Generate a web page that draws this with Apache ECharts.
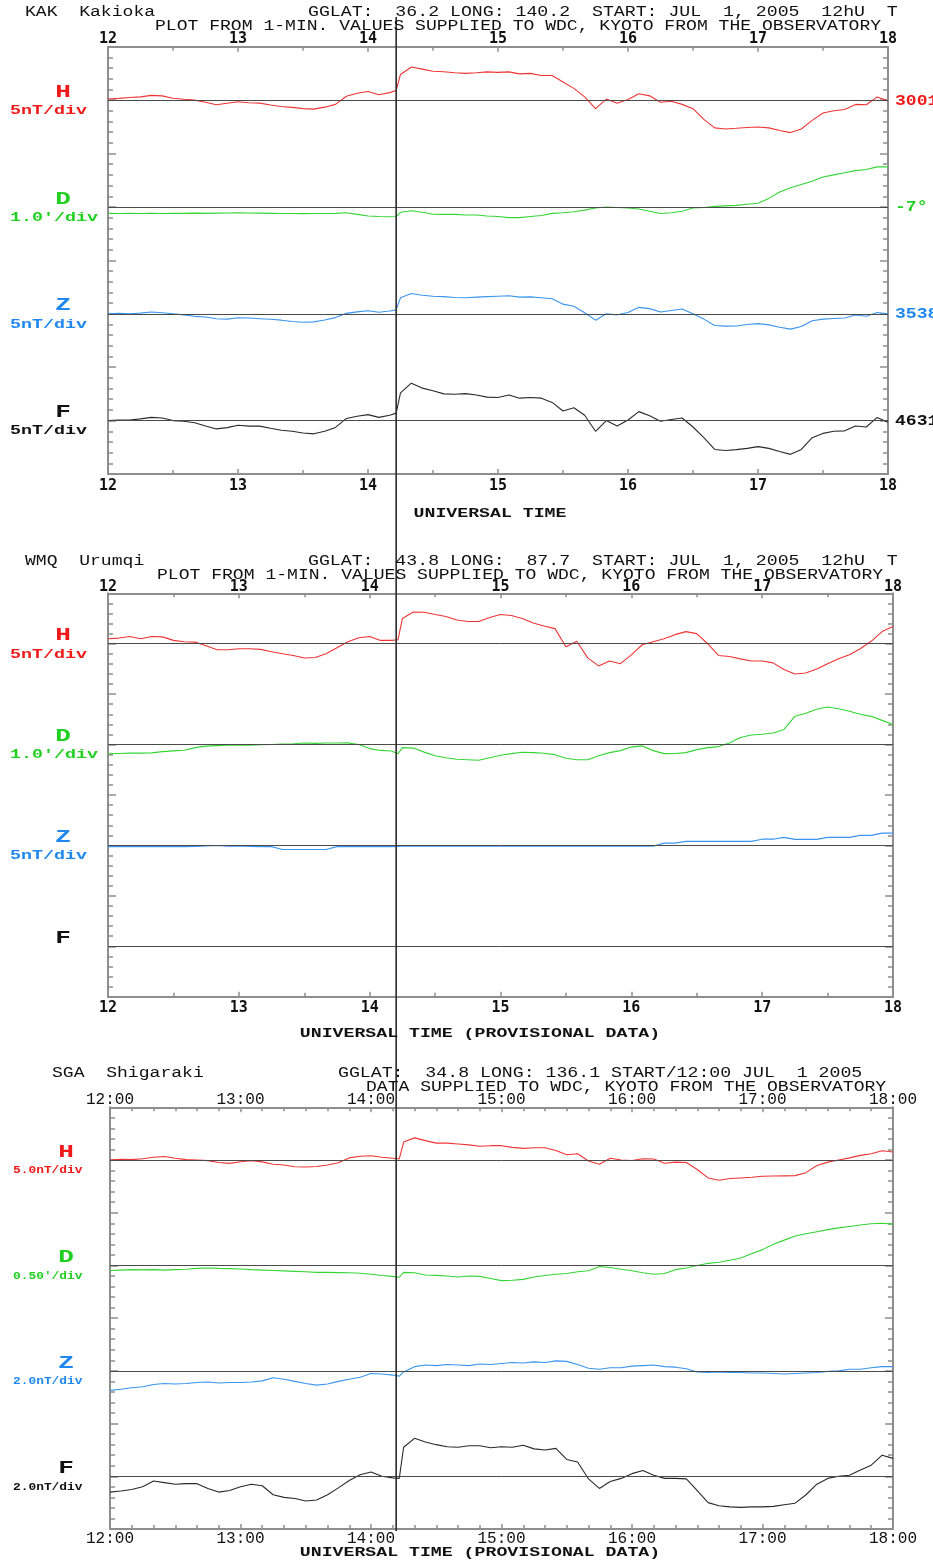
<!DOCTYPE html>
<html><head><meta charset="utf-8">
<script src="https://cdn.jsdelivr.net/npm/echarts@6/dist/echarts.min.js"></script>
<style>html,body{margin:0;padding:0;background:#fff}#c{width:933px;height:1562px}</style>
</head><body><div id="c"></div>
<script>
// ---- time grid (minutes after 12:00 UT); 133 = sudden commencement sample ----
const minutes = (function(){const a=[];for(let m=0;m<=360;m+=5){a.push(m);if(m===130)a.push(133);}return a;})();
const sscMinute = 133;

// ---- KAK Kakioka (deviation from baseline) ----
const kakH = [0.5,0.8,1.2,1.5,2.2,2.0,0.9,0.4,0,-1.0,
  -2.2,-1.5,-0.8,-1.2,-1.4,-2.3,-3.0,-3.4,-4.0,-4.2,
  -3.3,-2.0,1.8,3.2,4.0,2.5,3.5,4.5,
  12.0,15.5,14.5,13.5,13.3,12.8,12.5,12.8,13.2,13.0,
  13.2,12.3,12.5,11.5,11.5,8.5,5.5,1.5,-4.0,0.5,
  -1.5,0.3,3.0,2.0,-1.0,-0.5,-2.0,-4.0,-9.0,-13.0,
  -13.5,-13.2,-12.8,-12.6,-13.0,-14.2,-15.2,-13.5,-9.5,-6.0,
  -5.0,-4.4,-2.0,-2.2,1.5,-0.3];
const kakD = [-0.6,-0.62,-0.6,-0.62,-0.6,-0.62,-0.6,-0.6,-0.58,-0.6,
  -0.58,-0.57,-0.55,-0.57,-0.58,-0.6,-0.62,-0.62,-0.63,-0.62,
  -0.62,-0.6,-0.55,-0.7,-0.85,-0.9,-0.92,-0.9,
  -0.5,-0.35,-0.5,-0.68,-0.7,-0.7,-0.75,-0.75,-0.85,-0.9,
  -1.0,-1.0,-0.9,-0.8,-0.6,-0.55,-0.45,-0.3,-0.1,0.0,
  -0.05,-0.1,-0.2,-0.4,-0.62,-0.55,-0.4,-0.1,-0.05,0.05,
  0.1,0.15,0.25,0.35,0.8,1.4,1.8,2.1,2.4,2.8,
  3.0,3.2,3.4,3.5,3.75,3.75];
const kakZ = [0,0.2,0,0.3,0.8,0.5,0,-0.5,-1.2,-1.5,
  -2.3,-2.5,-1.9,-2.0,-2.3,-2.6,-3.0,-3.6,-4.0,-3.8,
  -2.9,-1.8,0.2,0.9,1.4,0.7,1.3,1.8,
  7.5,9.5,8.7,8.2,8.0,7.6,7.5,7.8,8.0,8.2,
  8.4,7.8,7.9,7.5,7.0,4.5,3.5,0.5,-3.0,0.0,
  -0.5,0.6,3.0,2.4,0.8,1.5,2.2,0.0,-2.5,-5.5,
  -5.8,-5.7,-5.0,-4.6,-5.2,-6.3,-7.2,-6.0,-3.3,-2.5,
  -2.2,-2.0,-0.6,-1.2,0.6,0.0];
const kakF = [0,0.2,0.3,0.8,1.5,1.2,0,-0.3,-1.0,-2.5,
  -3.9,-3.3,-2.2,-2.6,-2.6,-3.6,-4.5,-5.0,-5.8,-6.2,
  -5.0,-3.2,1.0,2.0,2.8,1.5,2.5,3.5,
  13.0,17.5,15.2,14.0,12.5,12.3,12.6,12.0,11.0,10.8,
  12.0,10.5,10.8,10.5,8.5,4.5,6.0,2.5,-5.0,0.0,
  -2.5,0.3,4.2,2.3,-0.3,0.5,1.2,-3.0,-8.0,-13.5,
  -14.0,-13.6,-13.0,-12.2,-13.0,-14.5,-15.8,-13.5,-8.0,-6.0,
  -5.0,-4.8,-2.5,-3.0,1.5,-0.8];

// ---- WMQ Urumqi ----
const wmqH = [2.5,2.8,3.6,2.5,3.6,3.4,1.65,1.0,0.8,-1.0,
  -3.0,-3.0,-2.5,-2.5,-2.8,-4.0,-5.0,-5.8,-7.1,-6.8,
  -5.0,-2.0,1.0,3.0,3.6,1.65,1.65,2.0,
  12.5,15.7,15.6,14.5,13.5,11.8,11.0,11.0,13.0,14.5,
  14.0,12.5,10.3,8.8,7.5,-1.5,1.2,-7.0,-11.0,-8.6,
  -9.9,-5.5,-0.5,1.0,2.5,4.5,6.0,5.0,0,-5.8,
  -6.3,-7.5,-8.6,-8.6,-9.5,-12.8,-15.0,-14.5,-12.5,-9.9,
  -7.5,-5.5,-2.5,1.2,6.0,8.5];
const wmqD = [-0.9,-0.88,-0.85,-0.85,-0.82,-0.7,-0.62,-0.56,-0.3,-0.15,
  -0.1,-0.07,-0.05,-0.05,-0.02,0,0.05,0.08,0.15,0.12,
  0.15,0.15,0.17,0,-0.4,-0.58,-0.63,-0.9,
  -0.3,-0.35,-0.75,-1.1,-1.3,-1.45,-1.5,-1.55,-1.3,-1.06,
  -0.9,-0.76,-0.8,-0.86,-1.0,-1.35,-1.5,-1.5,-1.1,-0.8,
  -0.6,-0.25,-0.13,-0.6,-0.9,-0.88,-0.8,-0.5,-0.3,-0.2,
  0.15,0.7,0.95,1.02,1.15,1.5,2.8,3.1,3.5,3.72,
  3.56,3.3,3.0,2.8,2.4,2.0];
const wmqZ = [-0.6,-0.6,-0.6,-0.6,-0.6,-0.6,-0.6,-0.6,-0.5,-0.2,
  0.0,-0.4,-0.3,-0.5,-0.6,-0.6,-2.0,-2.0,-2.0,-2.0,
  -2.0,-0.6,-0.6,-0.6,-0.6,-0.6,-0.6,-0.5,
  -0.3,-0.4,-0.4,-0.3,-0.4,-0.4,-0.3,-0.4,-0.4,-0.3,
  -0.4,-0.4,-0.3,-0.4,-0.4,-0.4,-0.3,-0.4,-0.4,-0.4,
  -0.4,-0.4,-0.4,-0.4,1.15,1.15,2.0,2.0,2.0,2.0,
  2.0,2.0,2.0,3.1,3.1,4.0,3.0,3.0,3.0,4.0,
  4.0,4.0,5.0,5.0,6.1,6.1];

// ---- SGA Shigaraki ----
const sgaH = [0,0.3,0.2,0.6,1.3,1.7,0.8,0.2,0,-0.3,
  -1.2,-1.6,-0.8,-0.3,-0.9,-2.0,-2.4,-3.2,-3.3,-3.1,
  -2.4,-1.3,1.0,1.8,2.0,1.3,0.8,0.5,
  8.5,10.5,9.2,8.0,8.0,7.6,7.2,6.5,6.8,6.8,
  6.0,5.5,5.8,5.8,4.5,2.5,3.0,-0.5,-2.0,0.8,
  0,-0.2,0.6,0.5,-1.5,-1.0,-1.2,-4.5,-8.5,-9.6,
  -8.8,-8.5,-8.2,-7.7,-7.6,-7.5,-7.4,-6.0,-2.6,-1.0,
  0,1.0,2.2,3.0,4.4,3.8];
const sgaD = [-0.24,-0.22,-0.2,-0.21,-0.2,-0.22,-0.2,-0.18,-0.14,-0.12,
  -0.14,-0.15,-0.17,-0.2,-0.22,-0.24,-0.26,-0.28,-0.3,-0.33,
  -0.33,-0.34,-0.35,-0.37,-0.42,-0.48,-0.52,-0.56,
  -0.33,-0.35,-0.45,-0.47,-0.5,-0.55,-0.5,-0.52,-0.62,-0.72,
  -0.7,-0.66,-0.55,-0.48,-0.42,-0.38,-0.3,-0.25,-0.05,-0.1,
  -0.18,-0.25,-0.35,-0.42,-0.38,-0.2,-0.12,0,0.1,0.15,
  0.25,0.35,0.55,0.75,1.0,1.2,1.4,1.5,1.6,1.7,
  1.78,1.85,1.92,1.98,2.0,1.96];
const sgaZ = [-3.7,-3.5,-3.2,-3.0,-2.6,-2.4,-2.5,-2.4,-2.2,-2.1,
  -2.3,-2.2,-2.2,-2.1,-1.9,-1.3,-1.6,-2.0,-2.4,-2.7,
  -2.5,-2.0,-1.6,-1.2,-0.5,-0.6,-0.8,-1.0,
  -0.2,0.8,1.1,1.0,1.2,1.1,1.0,1.3,1.2,1.4,
  1.6,1.5,1.7,1.6,1.9,1.8,1.2,0.5,0.3,0.6,
  0.6,0.9,1.0,1.1,0.8,0.7,0.4,-0.2,-0.3,-0.2,
  -0.3,-0.3,-0.4,-0.4,-0.5,-0.6,-0.5,-0.4,-0.3,-0.1,
  0,0.3,0.3,0.6,0.8,0.8];
const sgaF = [-3.0,-2.8,-2.5,-2.0,-0.9,-1.2,-1.5,-1.4,-1.4,-2.3,
  -3.0,-2.7,-2.0,-1.5,-1.8,-3.5,-4.0,-4.2,-4.7,-4.5,
  -3.5,-2.2,-0.8,0.3,0.8,0,-0.3,-0.4,
  5.5,7.2,6.5,6.0,5.6,5.5,5.8,5.8,5.4,5.6,
  5.5,5.9,5.2,5.0,5.3,3.2,2.7,-0.5,-2.3,-1.0,
  -0.4,0.5,1.1,0.2,-0.4,-0.4,-0.5,-2.7,-5.0,-5.6,
  -5.8,-5.9,-5.8,-5.8,-5.7,-5.4,-5.1,-3.5,-1.5,-0.4,
  0,0.2,1.2,2.1,4.0,3.4];

// ---- texts ----
const kakHeader = ['KAK  Kakioka', 'GGLAT:  36.2 LONG: 140.2  START: JUL  1, 2005  12hU  T', 'PLOT FROM 1-MIN. VALUES SUPPLIED TO WDC, KYOTO FROM THE OBSERVATORY'];
const wmqHeader = ['WMQ  Urumqi', 'GGLAT:  43.8 LONG:  87.7  START: JUL  1, 2005  12hU  T', 'PLOT FROM 1-MIN. VALUES SUPPLIED TO WDC, KYOTO FROM THE OBSERVATORY'];
const sgaHeader = ['SGA  Shigaraki', 'GGLAT:  34.8 LONG: 136.1 START/12:00 JUL  1 2005', 'DATA SUPPLIED TO WDC, KYOTO FROM THE OBSERVATORY'];
const kakUnits = ['5nT/div', "1.0'/div", '5nT/div', '5nT/div'];
const wmqUnits = ['5nT/div', "1.0'/div", '5nT/div', ''];
const sgaUnits = ['5.0nT/div', "0.50'/div", '2.0nT/div', '2.0nT/div'];
const kakScales = [5, 1, 5, 5];
const wmqScales = [5, 1, 5, 5];
const sgaScales = [5, 0.5, 2, 2];
const kakRight = ['30013', '-7\u00b0\u00a0', '35380', '46310'];
const comps = ['H','D','Z','F'];

const lineColors = {H:'#ee3535', D:'#35d535', Z:'#3a95ee', F:'#2a2a2a'};
const textColors = {H:'#ee1a1a', D:'#22d022', Z:'#1e88ee', F:'#111111'};

const panels = [
  {values:[kakH,kakD,kakZ,kakF], scales:kakScales, units:kakUnits, header:kakHeader, right:kakRight,
   grid:{left:108, top:46.7, width:780, height:427.3}, minor:2, labelFmt:v=>String(v),
   hy:[12,26], hx:[25,308,155], ut:'UNIVERSAL TIME', utx:490, uty:514, lx:63, unitFont:'bold 13px "Liberation Mono"', unitScale:1.41, unitX:10,
   topMargin:0, botMargin:5},
  {values:[wmqH,wmqD,wmqZ,null], scales:wmqScales, units:wmqUnits, header:wmqHeader, right:null,
   grid:{left:108, top:593.3, width:785, height:403.4}, minor:2, labelFmt:v=>String(v),
   hy:[561,575], hx:[25,308,157], ut:'UNIVERSAL TIME (PROVISIONAL DATA)', utx:480, uty:1034, lx:63, unitFont:'bold 13px "Liberation Mono"', unitScale:1.41, unitX:10,
   topMargin:-1, botMargin:4},
  {values:[sgaH,sgaD,sgaZ,sgaF], scales:sgaScales, units:sgaUnits, header:sgaHeader, right:null,
   grid:{left:110, top:1107.3, width:783, height:421.7}, minor:6, labelFmt:v=>v+':00',
   hy:[1073,1087], hx:[52,338,366], ut:'UNIVERSAL TIME (PROVISIONAL DATA)', utx:480, uty:1553, lx:66, unitFont:'bold 11px "Liberation Mono"', unitScale:1.17, unitX:13,
   topMargin:0, botMargin:2}
];

const chart = echarts.init(document.getElementById('c'), null, {renderer:'canvas'});
const axisGray = '#8e8e8e';
const grids=[], xAxes=[], yAxes=[], series=[];
panels.forEach((p,pi)=>{
  grids.push(Object.assign({containLabel:false}, p.grid));
  const lab = {show:true, color:'#111', fontFamily: pi===2 ? 'Liberation Mono' : 'DejaVu Sans Mono',
      fontWeight: pi===2 ? 'normal' : 'bold', fontSize: pi===2 ? 16 : 15, formatter:p.labelFmt};
  const xBase = {type:'value', gridIndex:pi, min:12, max:18, interval:1,
    axisLine:{show:true, onZero:false, lineStyle:{color:axisGray, width:2}},
    axisTick:{show:true, inside:true, length:5, lineStyle:{color:axisGray, width:1.5}},
    minorTick:{show:true, splitNumber:p.minor, length:4, lineStyle:{color:axisGray, width:1.5}},
    splitLine:{show:false}};
  xAxes.push(Object.assign({}, xBase, {position:'bottom', axisLabel:Object.assign({}, lab, {margin:p.botMargin})}));
  xAxes.push(Object.assign({}, xBase, {position:'top', axisLabel:Object.assign({}, lab, {margin:p.topMargin})}));
  const yBase = {type:'value', gridIndex:pi, min:-35, max:5, interval:5,
    axisLine:{show:true, onZero:false, lineStyle:{color:axisGray, width:2}},
    axisTick:{show:true, inside:true, length:8, lineStyle:{color:axisGray, width:1.5}},
    minorTick:{show:true, splitNumber:5, length:5, lineStyle:{color:axisGray, width:1.5}},
    axisLabel:{show:false}, splitLine:{show:false}};
  yAxes.push(Object.assign({}, yBase, {position:'left'}));
  yAxes.push(Object.assign({}, yBase, {position:'right'}));
  // baselines
  series.push({type:'line', xAxisIndex:2*pi, yAxisIndex:2*pi, data:[], silent:true, animation:false,
    markLine:{silent:true, symbol:['none','none'], animation:false, label:{show:false},
      lineStyle:{color:'#4a4a4a', width:1, type:'solid'},
      data:[{yAxis:0},{yAxis:-10},{yAxis:-20},{yAxis:-30}]}});
  p.values.forEach((vals,k)=>{
    if(!vals) return;
    const off = -10*k, sc = p.scales[k];
    series.push({type:'line', name:p.header[0]+' '+comps[k], xAxisIndex:2*pi, yAxisIndex:2*pi,
      showSymbol:false, symbol:'none', animation:false, silent:true,
      lineStyle:{color:lineColors[comps[k]], width:1.1},
      data: minutes.map((m,i)=>[12+m/60, off + vals[i]/sc])});
  });
});

chart.setOption({animation:false, backgroundColor:'#fff', grid:grids, xAxis:xAxes, yAxis:yAxes, series:series});

// ---- text & marker overlay positioned through the axes ----
const g = [];
function txt(x,y,t,font,fill,align,sx){
  g.push({type:'text', x:x, y:y, scaleX:sx||1, silent:true, z:100,
    style:{text:t, font:font, fill:fill, align:align||'left', textAlign:align||'left', verticalAlign:'middle', textVerticalAlign:'middle'}});
}
const hFont = '14px "Liberation Mono"';
panels.forEach((p,pi)=>{
  txt(p.hx[0], p.hy[0], p.header[0], hFont, '#111', 'left', 1.29);
  txt(p.hx[1], p.hy[0], p.header[1], hFont, '#111', 'left', 1.30);
  txt(p.hx[2], p.hy[1], p.header[2], hFont, '#111', 'left', 1.29);
  txt(p.utx, p.uty, p.ut, 'bold 13px "Liberation Mono"', '#111', 'center', 1.4);
  comps.forEach((c,k)=>{
    const yb = chart.convertToPixel({yAxisIndex:2*pi}, -10*k);
    txt(p.lx, yb-7.8, c, 'bold 18px "Liberation Mono"', textColors[c], 'center', 1.45);
    if(p.units[k]) txt(p.unitX, yb+10.5, p.units[k], p.unitFont, textColors[c], 'left', p.unitScale);
    if(p.right) txt(895, yb+1, p.right[k], 'bold 14px "Liberation Mono"', textColors[c], 'left', 1.29);
  });
});
const sx = chart.convertToPixel({xAxisIndex:0}, 12+sscMinute/60);
g.push({type:'line', silent:true, z:90, shape:{x1:sx, y1:17, x2:sx, y2:1531}, style:{stroke:'#2a2a2a', lineWidth:1.6}});
chart.setOption({graphic:{elements:g}});
</script>
</body></html>
